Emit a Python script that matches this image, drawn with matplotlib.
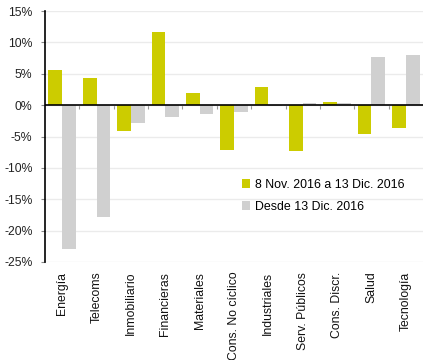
import numpy as np
import matplotlib
matplotlib.use("Agg")
import matplotlib.pyplot as plt

plt.rcParams["font.family"] = ["Liberation Sans", "DejaVu Sans"]

sectores = ["Energía", "Telecoms", "Inmobiliario", "Financieras", "Materiales",
            "Cons. No cíclico", "Industriales", "Serv. Públicos", "Cons. Discr.",
            "Salud", "Tecnología"]
nov_dic = [5.6, 4.3, -4.2, 11.6, 1.9, -7.1, 2.9, -7.3, 0.5, -4.6, -3.6]
desde_dic = [-23.0, -17.8, -2.8, -1.9, -1.4, -1.1, -0.2, 0.3, 0.3, 7.6, 8.0]
yticks = [15, 10, 5, 0, -5, -10, -15, -20, -25]

AMARILLO = "#cccc00"
GRIS = "#d0d0d0"

fig = plt.figure(figsize=(4.23, 3.6), dpi=100)
ax = fig.add_axes([45 / 423, 1 - 262 / 360, 1 - 45 / 423, 251 / 360])

x = np.arange(len(sectores))
w = 0.4
ax.bar(x - w / 2, nov_dic, w, color=AMARILLO, zorder=3, label="8 Nov. 2016 a 13 Dic. 2016")
ax.bar(x + w / 2, desde_dic, w, color=GRIS, zorder=3, label="Desde 13 Dic. 2016")

ax.set_xlim(-0.5, len(sectores) - 0.5)
ax.set_ylim(-25, 15)
ax.set_yticks(yticks)
ax.set_yticklabels([f"{v}%" for v in yticks], fontsize=8.8, color="#222222")
ax.yaxis.grid(True, color="#ebebeb", lw=1, zorder=0)
ax.tick_params(axis="y", length=3, width=0.8, color="#888888", pad=6)

ax.set_xticks(x)
ax.set_xticklabels(sectores, rotation=90, fontsize=8.8, color="#111111")
ax.tick_params(axis="x", length=0, pad=7)

# separadores entre sectores colgando de la línea del cero
ax.vlines(x[:-1] + 0.5, -0.6, 0, color="#999999", lw=0.8, zorder=1)
ax.axhline(0, color="black", lw=1.2, zorder=4)

for s in ["top", "right", "bottom"]:
    ax.spines[s].set_visible(False)
ax.spines["left"].set_color("black")
ax.spines["left"].set_linewidth(1.2)

ax.legend(loc="upper left", bbox_to_anchor=(0.507, 0.351), frameon=False,
          fontsize=8.9, handlelength=0.7, handleheight=0.7, handletextpad=0.4,
          labelspacing=0.8, borderaxespad=0)

fig.savefig("out.png", dpi=100)
